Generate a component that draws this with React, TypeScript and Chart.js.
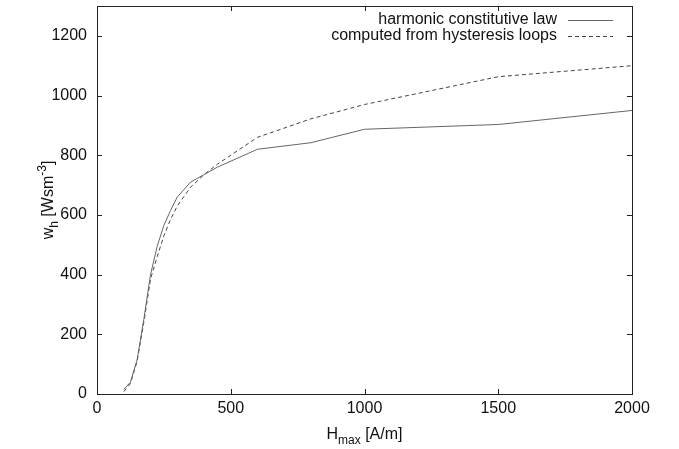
import React, { useEffect, useRef } from "react";
import { Chart, registerables } from "chart.js";

Chart.register(...registerables);

const harmonicH = [100, 125, 150, 175, 200, 225, 250, 275, 300, 350, 450, 600, 800, 1000, 1500, 2000];
const harmonicW = [15, 40, 115, 250, 400, 495, 565, 615, 660, 710, 760, 820, 842, 887, 903, 950];

const hysteresisH = [100, 125, 150, 175, 200, 225, 250, 275, 300, 350, 400, 450, 600, 800, 1000, 1500, 2000];
const hysteresisW = [8, 35, 110, 240, 385, 460, 530, 585, 630, 693, 735, 770, 860, 922, 970, 1063, 1100];

const xTicks = [0, 500, 1000, 1500, 2000];
const yTicks = [0, 200, 400, 600, 800, 1000, 1200];

const seriesLabels = ["harmonic constitutive law", "computed from hysteresis loops"];

const FONT = "'Liberation Sans', Arial, Helvetica, sans-serif";
const SOLID_COLOR = "#666";
const DASH_COLOR = "#444";
const DASH = [4, 3];

type Seg = { t: string; k: "n" | "sub" | "sup" };

function drawRich(ctx: CanvasRenderingContext2D, segs: Seg[], x: number, y: number) {
  const sizes = { n: 16, sub: 12, sup: 12 };
  const offs = { n: 0, sub: 5, sup: -7 };
  let total = 0;
  for (const s of segs) {
    ctx.font = `${sizes[s.k]}px ${FONT}`;
    total += ctx.measureText(s.t).width;
  }
  let cx = x - total / 2;
  for (const s of segs) {
    ctx.font = `${sizes[s.k]}px ${FONT}`;
    ctx.fillText(s.t, cx, y + offs[s.k]);
    cx += ctx.measureText(s.t).width;
  }
}

const decorPlugin = {
  id: "decor",
  afterDraw(chart: any) {
    const ctx: CanvasRenderingContext2D = chart.ctx;
    const { left, right, top, bottom } = chart.chartArea;
    const xs = chart.scales.x;
    const ys = chart.scales.y;
    ctx.save();
    ctx.strokeStyle = "#222";
    ctx.lineWidth = 1;
    ctx.setLineDash([]);
    ctx.strokeRect(Math.round(left) + 0.5, Math.round(top) + 0.5, Math.round(right - left), Math.round(bottom - top));
    const tl = 5;
    ctx.beginPath();
    for (const v of xTicks) {
      const px = Math.round(xs.getPixelForValue(v)) + 0.5;
      ctx.moveTo(px, bottom);
      ctx.lineTo(px, bottom - tl);
      ctx.moveTo(px, top);
      ctx.lineTo(px, top + tl);
    }
    for (const v of yTicks) {
      const py = Math.round(ys.getPixelForValue(v)) + 0.5;
      ctx.moveTo(left, py);
      ctx.lineTo(left + tl, py);
      ctx.moveTo(right, py);
      ctx.lineTo(right - tl, py);
    }
    ctx.stroke();

    // legend
    ctx.fillStyle = "#111";
    ctx.font = `16px ${FONT}`;
    ctx.textAlign = "right";
    ctx.textBaseline = "middle";
    const rows = [20, 36];
    const styles = [
      { c: SOLID_COLOR, d: [] as number[] },
      { c: DASH_COLOR, d: DASH },
    ];
    seriesLabels.forEach((lab, i) => {
      ctx.fillText(lab, 557, rows[i]);
      ctx.beginPath();
      ctx.strokeStyle = styles[i].c;
      ctx.setLineDash(styles[i].d);
      ctx.moveTo(568, rows[i] + 0.5);
      ctx.lineTo(613, rows[i] + 0.5);
      ctx.stroke();
    });
    ctx.setLineDash([]);

    // axis titles
    ctx.fillStyle = "#111";
    ctx.textAlign = "left";
    ctx.textBaseline = "alphabetic";
    drawRich(
      ctx,
      [
        { t: "H", k: "n" },
        { t: "max", k: "sub" },
        { t: " [A/m]", k: "n" },
      ],
      (left + right) / 2,
      439
    );
    ctx.save();
    ctx.translate(53, (top + bottom) / 2);
    ctx.rotate(-Math.PI / 2);
    drawRich(
      ctx,
      [
        { t: "w", k: "n" },
        { t: "h", k: "sub" },
        { t: " [Wsm", k: "n" },
        { t: "-3", k: "sup" },
        { t: "]", k: "n" },
      ],
      0,
      0
    );
    ctx.restore();
    ctx.restore();
  },
};

export default function App() {
  const ref = useRef<HTMLCanvasElement | null>(null);
  useEffect(() => {
    if (!ref.current) return;
    const chart = new Chart(ref.current, {
      type: "line",
      data: {
        datasets: [
          {
            label: seriesLabels[0],
            data: harmonicH.map((h, i) => ({ x: h, y: harmonicW[i] })),
            borderColor: SOLID_COLOR,
            borderWidth: 1,
            pointRadius: 0,
            tension: 0,
            fill: false,
          },
          {
            label: seriesLabels[1],
            data: hysteresisH.map((h, i) => ({ x: h, y: hysteresisW[i] })),
            borderColor: DASH_COLOR,
            borderWidth: 1,
            borderDash: DASH,
            pointRadius: 0,
            tension: 0,
            fill: false,
          },
        ],
      },
      options: {
        responsive: false,
        animation: false,
        layout: { padding: { top: 6, right: 47, left: 0, bottom: 0 } },
        plugins: { legend: { display: false }, tooltip: { enabled: false } },
        scales: {
          x: {
            type: "linear",
            min: 0,
            max: 2000,
            afterFit: (s: any) => {
              s.height = 55;
              s.paddingLeft = 0;
              s.paddingRight = 0;
              s.paddingTop = 0;
              s.paddingBottom = 0;
            },
            afterBuildTicks: (s: any) => {
              s.ticks = xTicks.map((v) => ({ value: v }));
            },
            grid: { display: false, drawTicks: false, tickLength: 0 },
            border: { display: false },
            ticks: {
              color: "#111",
              padding: 5,
              maxRotation: 0,
              font: { family: FONT, size: 16 },
              callback: (v: any) => String(v),
            },
          },
          y: {
            type: "linear",
            min: 0,
            max: 1300,
            afterFit: (s: any) => {
              s.width = 97;
              s.paddingTop = 0;
              s.paddingBottom = 0;
              s.paddingLeft = 0;
              s.paddingRight = 0;
            },
            afterBuildTicks: (s: any) => {
              s.ticks = yTicks.map((v) => ({ value: v }));
            },
            grid: { display: false, drawTicks: false, tickLength: 0 },
            border: { display: false },
            ticks: {
              color: "#111",
              padding: 10,
              font: { family: FONT, size: 16 },
              callback: (v: any) => String(v),
            },
          },
        },
      },
      plugins: [decorPlugin],
    } as any);
    return () => chart.destroy();
  }, []);
  return (
    <div style={{ position: "absolute", left: 0, top: 0, width: 679, height: 449, background: "#fff" }}>
      <canvas ref={ref} width={679} height={449} style={{ display: "block" }} />
    </div>
  );
}
